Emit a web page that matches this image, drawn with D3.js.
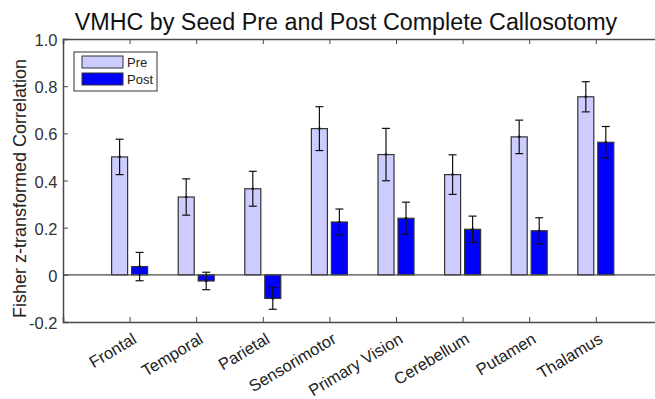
<!DOCTYPE html>
<html>
<head>
<meta charset="utf-8">
<script src="https://cdn.jsdelivr.net/npm/d3@7"></script>
<style>
  body { margin: 0; background: #fff; }
  svg { display: block; font-family: "Liberation Sans", Arial, sans-serif; }
</style>
</head>
<body>
<div id="chart"></div>
<script>
const categories = ["Frontal", "Temporal", "Parietal", "Sensorimotor", "Primary Vision", "Cerebellum", "Putamen", "Thalamus"];
const preValues  = [0.50, 0.33, 0.365, 0.62, 0.51, 0.425, 0.585, 0.755];
const preErrors  = [0.075, 0.077, 0.074, 0.093, 0.111, 0.084, 0.071, 0.064];
const postValues = [0.035, -0.026, -0.10, 0.224, 0.24, 0.193, 0.187, 0.562];
const postErrors = [0.06, 0.037, 0.046, 0.055, 0.068, 0.056, 0.055, 0.067];
const yTicks = [-0.2, 0, 0.2, 0.4, 0.6, 0.8, 1.0];
const yTickLabels = ["-0.2", "0", "0.2", "0.4", "0.6", "0.8", "1.0"];
const seriesNames = ["Pre", "Post"];

const W = 655, H = 399;
const plotLeft = 63, plotTop = 39, plotBottom = 322;

const svg = d3.select("#chart").append("svg")
    .attr("width", W)
    .attr("height", H);

// x: categories sit at 1..8, axis runs 0..9 (right edge is cropped)
const x = d3.scaleLinear().domain([0, 9]).range([plotLeft, plotLeft + 9 * 66.6]);
const y = d3.scaleLinear().domain([-0.2, 1.0]).range([plotBottom, plotTop]);

const axisColor = "#4a4a4a";
const barW = 16, offset = 10;

// title
svg.append("text")
    .attr("x", 346)
    .attr("y", 30)
    .attr("text-anchor", "middle")
    .attr("font-size", 23.3)
    .attr("fill", "#111")
    .text("VMHC by Seed Pre and Post Complete Callosotomy");

// y label
svg.append("text")
    .attr("transform", "translate(26,188.5) rotate(-90)")
    .attr("text-anchor", "middle")
    .attr("font-size", 18)
    .attr("fill", "#222")
    .text("Fisher z-transformed Correlation");

// bars
const data = categories.map((c, i) => ({
    name: c, i: i + 1,
    pre: preValues[i], preErr: preErrors[i],
    post: postValues[i], postErr: postErrors[i]
}));

const groups = [
    {key: "pre", err: "preErr", dx: -offset, fill: "#ccccff"},
    {key: "post", err: "postErr", dx: offset, fill: "#0000ff"}
];

groups.forEach(g => {
    svg.selectAll(".bar-" + g.key)
        .data(data)
      .enter().append("rect")
        .attr("class", "bar-" + g.key)
        .attr("x", d => x(d.i) + g.dx - barW / 2)
        .attr("y", d => y(Math.max(0, d[g.key])))
        .attr("width", barW)
        .attr("height", d => Math.abs(y(d[g.key]) - y(0)))
        .attr("fill", g.fill)
        .attr("stroke", "#333")
        .attr("stroke-width", 1.2);
});

// zero line
svg.append("line")
    .attr("x1", plotLeft).attr("x2", W)
    .attr("y1", y(0)).attr("y2", y(0))
    .attr("stroke", axisColor)
    .attr("stroke-width", 1.3);

// error bars
groups.forEach(g => {
    const eb = svg.selectAll(".err-" + g.key)
        .data(data)
      .enter().append("g")
        .attr("class", "err-" + g.key)
        .attr("transform", d => `translate(${x(d.i) + g.dx},0)`);
    eb.append("line")
        .attr("y1", d => y(d[g.key] + d[g.err]))
        .attr("y2", d => y(d[g.key] - d[g.err]))
        .attr("stroke", "#111").attr("stroke-width", 1.2);
    [1, -1].forEach(s => {
        eb.append("line")
            .attr("x1", -4).attr("x2", 4)
            .attr("y1", d => y(d[g.key] + s * d[g.err]))
            .attr("y2", d => y(d[g.key] + s * d[g.err]))
            .attr("stroke", "#111").attr("stroke-width", 1.2);
    });
    eb.append("circle")
        .attr("cy", d => y(d[g.key]))
        .attr("r", 1.3)
        .attr("fill", "#111");
});

// box / axes
svg.append("g")
    .attr("transform", `translate(${plotLeft},0)`)
    .call(d3.axisLeft(y).tickValues(yTicks).tickFormat((d, i) => yTickLabels[i]).tickSize(-5).tickPadding(5.5))
    .call(g => g.select(".domain").attr("stroke", axisColor).attr("stroke-width", 1.5))
    .call(g => g.selectAll(".tick line").attr("stroke", axisColor))
    .call(g => g.selectAll(".tick text").attr("font-size", 16.5).attr("fill", "#333")
        .attr("dy", "0.4em")
        .attr("font-family", "Liberation Sans, Arial, sans-serif"));

svg.append("g")
    .attr("transform", `translate(0,${plotTop})`)
    .call(d3.axisTop(x).tickValues(d3.range(1, 9)).tickSize(-5).tickFormat(""))
    .call(g => g.select(".domain").attr("stroke", axisColor).attr("stroke-width", 1.5))
    .call(g => g.selectAll(".tick line").attr("stroke", axisColor));

svg.append("g")
    .attr("transform", `translate(0,${plotBottom})`)
    .call(d3.axisBottom(x).tickValues(d3.range(1, 9)).tickSize(-5).tickFormat(""))
    .call(g => g.select(".domain").attr("stroke", axisColor).attr("stroke-width", 1.5))
    .call(g => g.selectAll(".tick line").attr("stroke", axisColor));

svg.selectAll(".xlabel")
    .data(data)
  .enter().append("text")
    .attr("class", "xlabel")
    .attr("transform", d => `translate(${x(d.i) + 8},${plotBottom + 20}) rotate(-31)`)
    .attr("text-anchor", "end")
    .attr("font-size", 16.5)
    .attr("fill", "#222")
    .text(d => d.name);

// legend
const legend = svg.append("g").attr("transform", "translate(74,52)");
legend.append("rect")
    .attr("width", 83).attr("height", 39)
    .attr("fill", "#fff")
    .attr("stroke", "#555").attr("stroke-width", 1.2);
seriesNames.forEach((s, i) => {
    legend.append("rect")
        .attr("x", 8).attr("y", 4 + i * 17)
        .attr("width", 41).attr("height", 12)
        .attr("fill", groups[i].fill)
        .attr("stroke", "#333").attr("stroke-width", 1);
    legend.append("text")
        .attr("x", 53).attr("y", 15 + i * 17)
        .attr("font-size", 13)
        .attr("fill", "#222")
        .text(s);
});
</script>
</body>
</html>
